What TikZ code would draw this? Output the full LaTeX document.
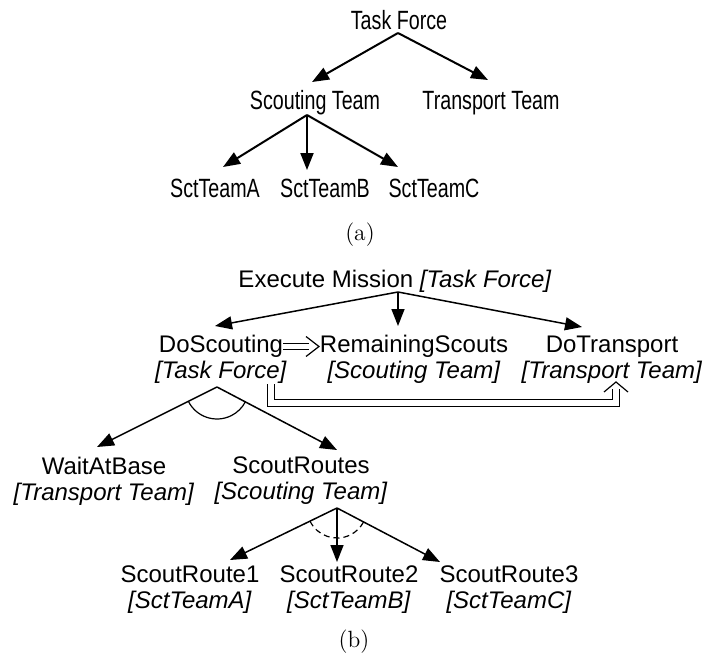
\documentclass[tikz,border=0pt]{standalone}
\usepackage{fontspec}
\newfontfamily\arial{Liberation Sans}
\usetikzlibrary{arrows.meta}
% condensed label text for the organisation tree
\newcommand\narrowtxt[1]{\scalebox{0.82}[1.1]{#1}}
\begin{document}
\begin{tikzpicture}[x=0.5pt,y=-0.5pt,
  lbl/.style={inner sep=0pt, font=\arial\fontsize{12}{13}\selectfont, align=center},
  caption/.style={inner sep=0pt, font=\fontsize{11.75}{13}\selectfont},
  tree/.style={line width=1pt, -{Triangle[length=8.5pt,width=6.5pt]}},
  plan/.style={line width=0.75pt, -{Triangle[length=8.5pt,width=6.5pt]}},
  dbl/.style={double, line width=0.5pt, double distance=2.5pt},
  dblwide/.style={double, line width=0.5pt, double distance=3pt},
  barb/.style={line width=0.6pt, line join=miter},
  andarc/.style={line width=0.6pt},
  orarc/.style={line width=0.6pt, dash pattern=on 3pt off 2pt},
]
\useasboundingbox (0,0) rectangle (707,664);

% ---------- (a) organisation ----------
\node[lbl] (tf) at (399,20)  {\narrowtxt{Task Force}};
\node[lbl] (st) at (315,103) {\narrowtxt{Scouting Team}};
\node[lbl] (tt) at (491,103) {\narrowtxt{Transport Team}};
\node[lbl] (sa) at (215,188) {\narrowtxt{SctTeamA}};
\node[lbl] (sb) at (325,188) {\narrowtxt{SctTeamB}};
\node[lbl] (sc) at (434,188) {\narrowtxt{SctTeamC}};
\node[caption] (capa) at (360,235) {(a)};

\coordinate (tfA) at (398,33);
\coordinate (stT) at (312,82);
\coordinate (ttT) at (488,80);
\coordinate (stA) at (307,115);
\coordinate (saT) at (223,167);
\coordinate (sbT) at (307,170);
\coordinate (scT) at (398,167);

\draw[tree] (tfA) -- (stT);
\draw[tree] (tfA) -- (ttT);
\draw[tree] (stA) -- (saT);
\draw[tree] (stA) -- (sbT);
\draw[tree] (stA) -- (scT);

% ---------- (b) team plan ----------
\node[lbl] (em) at (395,281) {Execute Mission \textit{[Task Force]}};
\node[lbl] (ds) at (221,359.5) {DoScouting\\\textit{[Task Force]}};
\node[lbl] (rs) at (414,359.5) {RemainingScouts\\\textit{[Scouting Team]}};
\node[lbl] (dt) at (612,359.5) {DoTransport\\\textit{[Transport Team]}};
\node[lbl] (wb) at (104,481) {WaitAtBase\\\textit{[Transport Team]}};
\node[lbl] (sr) at (301,481) {ScoutRoutes\\\textit{[Scouting Team]}};
\node[lbl] (r1) at (190,590) {ScoutRoute1\\\textit{[SctTeamA]}};
\node[lbl] (r2) at (349,590) {ScoutRoute2\\\textit{[SctTeamB]}};
\node[lbl] (r3) at (509,590) {ScoutRoute3\\\textit{[SctTeamC]}};
\node[caption] (capb) at (354,642) {(b)};

\coordinate (emA) at (398,292);
\coordinate (dsT) at (215,326);
\coordinate (rsT) at (398,326);
\coordinate (dtT) at (582,327);
\coordinate (dsA) at (217,387);
\coordinate (wbT) at (97,447);
\coordinate (srT) at (337,450);
\coordinate (srA) at (337,508);
\coordinate (r1T) at (230,560);
\coordinate (r2T) at (337,562);
\coordinate (r3T) at (440,562);

\draw[plan] (emA) -- (dsT);
\draw[plan] (emA) -- (rsT);
\draw[plan] (emA) -- (dtT);
\draw[plan] (dsA) -- (wbT);
\draw[plan] (dsA) -- (srT);
\draw[plan] (srA) -- (r1T);
\draw[plan] (srA) -- (r2T);
\draw[plan] (srA) -- (r3T);

% AND / OR decomposition arcs
\draw[andarc] ([shift={(153.4:32)}]dsA) arc[start angle=153.4, end angle=27.7, radius=32];
\draw[orarc]  ([shift={(154.1:30)}]srA) arc[start angle=154.1, end angle=27.7, radius=30];

% sequencing constraints (double arrows)
\coordinate (q1s) at (283,346);
\coordinate (q1e) at (309,346);
\coordinate (q1t) at (319,346.5);
\draw[dbl] (q1s) -- (q1e);
\draw[barb] ([shift={(-13,-10)}]q1t) -- (q1t) -- ([shift={(-13,10)}]q1t);

\coordinate (q2s) at (270.5,384);
\coordinate (q2e) at (615.5,389);
\coordinate (q2t) at (616,382);
\draw[dblwide] (q2s) -- (270.5,402.5) -- (615.5,402.5) -- (q2e);
\draw[barb] ([shift={(-12,10)}]q2t) -- (q2t) -- ([shift={(12,10)}]q2t);
\end{tikzpicture}
\end{document}
